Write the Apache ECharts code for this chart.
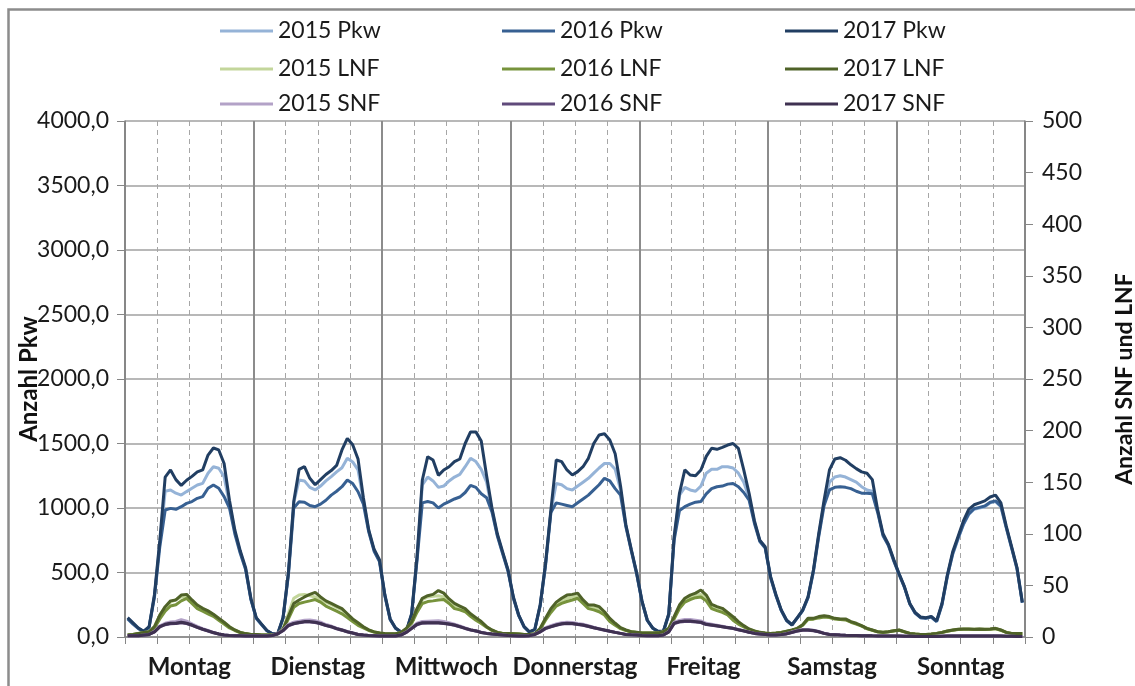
<!DOCTYPE html>
<html><head><meta charset="utf-8">
<script src="https://cdn.jsdelivr.net/npm/echarts@6/dist/echarts.min.js"></script>
<style>html,body{margin:0;padding:0;background:#fff}#c{width:1135px;height:686px}</style>
</head><body><div id="c"></div>
<script>
const days = ['Montag','Dienstag','Mittwoch','Donnerstag','Freitag','Samstag','Sonntag'];
const pkwTicks = [0,500,1000,1500,2000,2500,3000,3500,4000];
const snfLnfTicks = [0,50,100,150,200,250,300,350,400,450,500];

// hourly values, Monday 0h .. Sunday 23h
const pkw2015 = [].concat(
 [145,105,67,43,77,320,730,1130,1140,1115,1100,1127,1153,1178,1191,1269,1320,1308,1243,1030,815,660,530,295],
 [145,97,48,24,24,145,490,1040,1217,1210,1160,1140,1170,1210,1243,1280,1312,1385,1357,1295,1060,820,670,590],
 [325,137,68,38,43,175,600,1180,1240,1210,1160,1170,1210,1240,1260,1320,1385,1360,1300,1200,985,790,650,515],
 [305,165,78,38,58,245,560,975,1190,1180,1150,1140,1170,1200,1230,1270,1310,1345,1345,1300,1140,860,675,495],
 [275,128,68,43,43,175,760,1100,1160,1140,1130,1170,1270,1300,1300,1320,1320,1310,1270,1200,1080,890,745,695],
 [465,325,205,128,93,148,205,305,510,790,1040,1200,1240,1250,1240,1220,1200,1165,1140,1130,975,790,715,595],
 [485,385,255,185,150,145,155,120,250,470,640,760,870,950,990,1000,1010,1040,1050,1010,845,690,530,265]);
const pkw2016 = [].concat(
 [140,100,65,42,75,310,700,985,997,990,1010,1036,1050,1075,1088,1153,1178,1153,1088,1000,800,650,525,290],
 [145,95,48,24,24,145,480,1000,1049,1045,1020,1010,1030,1060,1100,1130,1165,1217,1190,1126,1030,815,665,585],
 [320,135,68,38,42,170,590,1040,1050,1040,1000,1030,1050,1070,1085,1120,1175,1160,1110,1080,970,785,645,510],
 [300,165,78,38,58,240,555,965,1040,1030,1020,1010,1040,1070,1100,1140,1180,1230,1210,1150,1100,855,670,490],
 [275,128,68,43,43,172,750,980,1010,1030,1045,1050,1110,1150,1165,1170,1185,1190,1165,1120,1060,880,740,690],
 [460,322,205,128,93,148,205,305,505,780,1020,1140,1160,1165,1160,1150,1130,1115,1115,1110,965,785,710,590],
 [485,385,255,185,150,145,155,120,250,470,645,765,875,955,995,1005,1015,1045,1055,1015,850,690,530,265]);
const pkw2017 = [].concat(
 [150,110,70,45,80,330,750,1240,1295,1220,1175,1215,1245,1280,1295,1410,1465,1450,1345,1060,830,670,540,300],
 [150,100,50,25,25,150,500,1050,1300,1320,1230,1180,1220,1260,1290,1330,1450,1540,1490,1380,1080,830,680,600],
 [330,140,70,40,45,180,620,1217,1398,1372,1253,1295,1320,1360,1380,1500,1590,1590,1520,1250,1000,800,660,520],
 [310,170,80,40,60,250,570,985,1372,1359,1295,1256,1282,1320,1385,1500,1566,1575,1527,1420,1170,870,680,500],
 [280,130,70,45,45,180,777,1114,1295,1256,1250,1295,1400,1463,1455,1470,1488,1500,1463,1295,1114,900,750,700],
 [470,330,210,130,95,150,209,312,519,803,1062,1295,1380,1390,1370,1335,1305,1280,1270,1220,985,800,720,600],
 [490,390,260,190,155,150,160,125,260,480,660,780,900,990,1025,1040,1055,1085,1100,1040,860,700,540,270]);

const lnf2015 = [].concat(
 [1.9,2.5,3.5,4.3,5,10,21.3,28.8,33.8,36.3,38.8,40,35,30,27.5,25,21.3,17.5,13.8,10,6.8,4.5,3.3,2.5],
 [2.5,1.9,1.9,1.9,3.1,8.1,22.5,37.5,40.6,41.3,40,38.8,36.3,33.8,31.3,28.8,26.3,21.3,16.3,12.5,9.4,6.9,5,3.8],
 [3.1,3,3,4.3,8.1,14.4,26.3,36.3,38.8,39.4,40,38.8,35,30,28.1,26.3,21.3,17.5,13.8,9.8,6.5,4.4,3.4,3.1],
 [3.1,2.8,2.5,2.5,3.1,8.1,17.5,26.3,32.5,35,37.5,38.8,39.4,33.8,29.4,28.8,26.9,22.5,16.3,12.5,8.8,6.5,5,4.4],
 [3.8,3.8,3.8,4,5,8.1,18.8,30,36.3,38.8,40.6,41.3,37.5,30,27.5,26.3,22.5,18.1,13.8,10.4,7.5,5.8,4.4,3.8],
 [3.3,3.8,4.4,5.5,6.6,8.3,11.6,17.5,17.8,19.1,20,19.4,17.8,17.3,17,14.6,12.9,10.8,8.3,6.6,5.1,4.5,5,6],
 [6.6,5,3.5,2.9,2.5,2.5,2.8,3.5,4.5,5.8,6.6,7.4,7.6,7.6,7.4,7.6,7.4,7.6,8.3,6.6,4.5,3.5,3.5,3.5]);
const lnf2016 = [].concat(
 [1.9,2.5,3.4,4.1,4.8,8.8,17.5,25,30,31.3,35,37.5,32.5,27.5,25,22.5,20,16.3,12.5,8.8,6.3,4.3,3.1,2.5],
 [2.5,1.9,1.9,1.9,3,6.9,17.5,28.8,32.5,33.8,35,36.3,33.8,30,27.5,25,22.5,18.8,15,11.3,8.8,6.3,4.8,3.8],
 [3.1,3,3,4.1,7.5,13.1,23.8,32.5,34.3,35,35.9,36.3,32.5,27.5,26.3,24.5,20,16.3,13.1,9.4,6.3,4.4,3.4,3.1],
 [3.1,2.8,2.5,2.5,3,7.5,16.3,23.8,30,32.5,34.4,35.9,37.5,32.5,27.5,26.3,24.5,21.3,15,11.3,8.1,6.3,5,4.4],
 [3.8,3.8,3.8,3.9,4.8,7.5,17.5,27.5,33.8,36.3,38.1,38.8,35,27.5,25.6,23.8,21.3,16.3,12.5,9.8,7,5.5,4.3,3.6],
 [3.1,3.6,4.3,5.4,6.5,8,11.3,16.9,17.3,18.5,19.4,18.8,17.5,16.9,16.5,14.3,12.5,10.5,8,6.5,5,4.4,5,5.9],
 [6.5,5,3.4,2.8,2.5,2.5,2.6,3.4,4.4,5.6,6.5,7.3,7.5,7.5,7.3,7.5,7.3,7.5,8,6.5,4.4,3.4,3.4,3.4]);
const lnf2017 = [].concat(
 [1.9,2.5,3.5,4.4,5,10,21.3,29.4,35,35.9,40.6,41.3,35.9,31,27.8,25.3,22,18.1,14.3,10,6.8,4.5,3.3,2.5],
 [2.5,1.9,1.9,1.9,3.1,7.5,20,32.5,35.9,38.8,41.3,43.3,38.8,35,32.5,30,27.5,22.5,17.5,13.8,10,6.9,5,3.8],
 [3.3,3.1,3.1,4.4,8.4,14.9,27.5,37.5,40,41.3,45,42.5,36.9,32.5,30,27.5,22.5,18.8,15,10,6.8,4.5,3.5,3.3],
 [3.1,2.8,2.5,2.5,3.1,8.4,18.1,27.5,33.8,37.5,40.6,41.3,42.5,35.9,31,31,29.4,24.5,18.1,13.3,9,6.8,5.1,4.5],
 [3.8,3.8,3.8,4,5,8.4,19.8,31,37.5,40.6,42.5,45.5,40.6,31.6,29.4,27.8,23.8,19.8,14.9,11,7.8,5.9,4.5,3.8],
 [3.3,3.8,4.4,5.6,6.8,8.4,11.9,18.1,18.1,19.8,20.6,19.8,18.1,17.5,17.5,14.9,13.3,11,8.4,6.8,5.1,4.5,5.1,6.1],
 [6.8,5.1,3.5,2.9,2.5,2.5,2.8,3.5,4.5,5.9,6.8,7.5,7.8,7.8,7.5,7.8,7.5,7.8,8.4,6.8,4.5,3.5,3.5,3.5]);

const snf2015 = [].concat(
 [1.3,1.3,1.3,1.9,2.6,5.4,10.8,13.3,14.5,15,16.9,15.3,12.8,10.3,8.1,6.3,4.5,3,2,1.5,1.3,1.3,1,1],
 [1,1,1,1.6,3.4,6.8,12.3,14.3,15.3,16.3,16.5,15.8,14.3,12.1,10.6,8.6,7,5.3,3.9,2.6,1.9,1.5,1.3,1],
 [1,1,1,2,4.8,9,13.3,15,15.3,15.6,15.8,15,13.8,12.5,10.8,8.8,7.1,6,4.5,3.6,2.9,2.5,1.9,1.5],
 [1.3,1,1,1.3,2.6,5.4,9,11,12.6,13.9,14.4,14.1,13.1,12.3,10.9,9.4,8.1,6.9,5.8,4.6,3.5,2.5,2.1,1.9],
 [1.5,1.3,1.3,1.3,2,5.4,14.3,16.1,16.9,17,16.3,15.5,13.3,12.4,11.5,10.5,9.5,8.6,7.3,6,4.8,3.5,2.9,2.5],
 [1.9,1.9,2.3,3.3,4.8,6.3,7.3,7.3,6.6,5.4,3.6,2.6,2.3,1.9,1.6,1.5,1.4,1.3,1.3,1.1,1,1,0.9,0.9],
 [1,0.9,0.8,0.8,0.6,0.6,0.6,0.8,0.9,1,1.1,1.1,1.1,1.1,1.1,1.1,1.1,1.1,1.1,1,0.9,0.8,0.6,0.6]);
const snf2016 = [].concat(
 [1.3,1.3,1.3,1.8,2.5,5,9.8,11.9,12.8,13,13.8,13,11.4,9.3,7.5,5.8,4.1,2.9,1.9,1.5,1.3,1.3,1,1],
 [1,1,1,1.5,3,6,10.9,12.8,13.8,14.5,14.5,14,12.8,11,9.8,8,6.6,5,3.8,2.5,1.9,1.5,1.3,1],
 [1,1,1,1.9,4.4,8.1,11.9,13.4,13.5,13.5,13.5,13,12.3,11.4,9.9,8.3,6.8,5.8,4.4,3.5,2.9,2.5,1.9,1.5],
 [1.3,1,1,1.3,2.5,4.9,8.1,9.8,11.4,12.5,13,12.9,12,11.4,10.1,8.9,7.8,6.6,5.5,4.5,3.5,2.5,2.1,1.9],
 [1.5,1.3,1.3,1.3,1.9,4.9,12.9,14.5,15.1,15.1,14.6,14,12,11.4,10.6,9.9,9,8.3,7,5.8,4.6,3.5,2.9,2.5],
 [1.9,1.9,2.3,3,4.4,5.8,6.6,6.6,6.1,5,3.5,2.5,2.3,1.9,1.6,1.5,1.4,1.3,1.3,1.1,1,1,0.9,0.9],
 [0.9,0.8,0.8,0.6,0.6,0.6,0.6,0.6,0.8,0.9,1,1,1,1,1,1,1,1,1,0.9,0.8,0.8,0.6,0.6]);
const snf2017 = [].concat(
 [1.3,1.3,1.3,1.9,2.5,5,10,12.3,13.3,13.3,14.3,13.3,11.6,9.4,7.5,5.9,4.3,2.9,1.9,1.5,1.3,1.3,1,1],
 [1,1,1,1.5,3.1,6.3,11.3,13.1,14,14.9,14.9,14.4,13.1,11.3,10,8.1,6.8,5.1,3.8,2.5,1.9,1.5,1.3,1],
 [1,1,1,1.9,4.5,8.4,12.3,13.8,13.8,13.8,13.8,13.3,12.5,11.6,10,8.4,6.9,5.9,4.4,3.5,2.9,2.5,1.9,1.5],
 [1.3,1,1,1.3,2.5,5,8.4,10,11.6,12.9,13.3,13.1,12.3,11.6,10.4,9,7.9,6.8,5.6,4.5,3.5,2.5,2.1,1.9],
 [1.5,1.3,1.3,1.3,1.9,5,13.3,14.9,15.5,15.5,14.9,14.3,12.3,11.6,10.9,10,9.1,8.4,7.1,5.9,4.6,3.5,2.9,2.5],
 [1.9,1.9,2.3,3.1,4.5,5.9,6.8,6.8,6.3,5.1,3.5,2.5,2.3,1.9,1.6,1.5,1.4,1.3,1.3,1.1,1,1,0.9,0.9],
 [0.9,0.8,0.8,0.6,0.6,0.6,0.6,0.6,0.8,0.9,1,1,1,1,1,1,1,1,1,0.9,0.8,0.8,0.6,0.6]);

const seriesDefs = [
 {name:'2015 Pkw', data:pkw2015, axis:0, color:'#95B3D7'},
 {name:'2016 Pkw', data:pkw2016, axis:0, color:'#376092'},
 {name:'2017 Pkw', data:pkw2017, axis:0, color:'#213E62'},
 {name:'2015 LNF', data:lnf2015, axis:1, color:'#C3D69B'},
 {name:'2016 LNF', data:lnf2016, axis:1, color:'#77933C'},
 {name:'2017 LNF', data:lnf2017, axis:1, color:'#4F6228'},
 {name:'2015 SNF', data:snf2015, axis:1, color:'#B3A2C7'},
 {name:'2016 SNF', data:snf2016, axis:1, color:'#604A7B'},
 {name:'2017 SNF', data:snf2017, axis:1, color:'#3F3151'}
];

const FONT = 'Lato';
const legendCols = [220, 502, 785];
const legendRows = [18, 56, 91];
const legends = seriesDefs.map((s, k) => ({
  data:[s.name], left:legendCols[k % 3], top:legendRows[Math.floor(k / 3)], padding:0,
  icon:'rect', itemWidth:53, itemHeight:3, selectedMode:false,
  textStyle:{fontFamily:FONT, fontSize:23, color:'#1a1a1a', lineHeight:26}
}));

const axisGray = '#868686';
const option = {
  animation:false,
  backgroundColor:'#fff',
  textStyle:{fontFamily:FONT},
  grid:{left:125, right:110, top:121, bottom:49, containLabel:false, outerBoundsMode:'none'},
  legend: legends,
  graphic:[{type:'rect', silent:true, z:-10,
    shape:{x:8.5, y:9.5, width:1300, height:900},
    style:{fill:'none', stroke:'#8c8c8c', lineWidth:2.5}}],
  xAxis:[
    {type:'value', min:0, max:168, interval:6, position:'bottom',
     axisLine:{show:true, onZero:false, lineStyle:{color:axisGray, width:1.5}},
     axisTick:{show:true, length:7, lineStyle:{color:axisGray}},
     axisLabel:{show:false},
     splitLine:{show:true, lineStyle:{color:'#a6a6a6', width:1, type:[5,4]}}},
    {type:'category', data:days, boundaryGap:true, position:'bottom',
     axisLine:{show:false}, axisTick:{show:false},
     axisLabel:{interval:0, fontFamily:FONT, fontWeight:'bold', fontSize:24, color:'#1a1a1a', margin:18},
     splitLine:{show:true, interval:0, lineStyle:{color:'#8c8c8c', width:2}}}
  ],
  yAxis:[
    {type:'value', min:pkwTicks[0], max:pkwTicks[pkwTicks.length-1], interval:pkwTicks[1]-pkwTicks[0], position:'left',
     axisLine:{show:true, lineStyle:{color:axisGray, width:1.5}},
     axisTick:{show:true, length:8, lineStyle:{color:axisGray}},
     axisLabel:{formatter:v => v.toFixed(1).replace('.', ','), fontFamily:FONT, fontSize:23, color:'#1a1a1a', margin:16},
     splitLine:{show:true, lineStyle:{color:'#a0a0a0', width:1.5}},
     name:'Anzahl Pkw', nameLocation:'middle', nameGap:84, nameRotate:90, nameMoveOverlap:false,
     nameTextStyle:{fontFamily:FONT, fontWeight:'bold', fontSize:24, color:'#111'}},
    {type:'value', min:snfLnfTicks[0], max:snfLnfTicks[snfLnfTicks.length-1], interval:snfLnfTicks[1]-snfLnfTicks[0], position:'right',
     axisLine:{show:true, lineStyle:{color:axisGray, width:1.5}},
     axisTick:{show:true, length:8, lineStyle:{color:axisGray}},
     axisLabel:{fontFamily:FONT, fontSize:23, color:'#1a1a1a', margin:17},
     splitLine:{show:false},
     name:'Anzahl SNF und LNF', nameLocation:'middle', nameGap:88, nameRotate:90,
     nameTextStyle:{fontFamily:FONT, fontWeight:'bold', fontSize:23, color:'#111'}}
  ],
  series: seriesDefs.map((s, k) => ({
    name:s.name, type:'line', xAxisIndex:0, yAxisIndex:s.axis,
    data:s.data.map((v, i) => [i + 0.5, v]),
    showSymbol:false, symbol:'none', smooth:false, z:2 + k,
    lineStyle:{width:3, color:s.color}, itemStyle:{color:s.color}
  }))
};
const chart = echarts.init(document.getElementById('c'), null, {renderer:'canvas'});
chart.setOption(option);
</script>
</body></html>
